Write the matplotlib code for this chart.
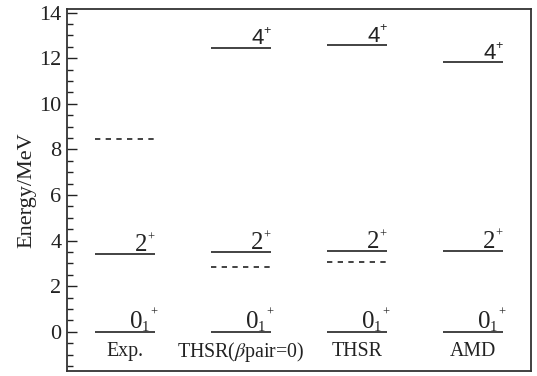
import matplotlib
matplotlib.use("Agg")
import matplotlib.pyplot as plt
from matplotlib.ticker import MultipleLocator

plt.rcParams['font.family'] = ['Liberation Serif', 'DejaVu Serif']
plt.rcParams['mathtext.fontset'] = 'stix'

# calculation schemes along the x axis
models = ["Exp.", r"THSR($\beta$pair=0)", "THSR", "AMD"]

# solid levels (MeV) for each scheme
e_ground = [0.0, 0.0, 0.0, 0.0]
e_two = [3.40, 3.50, 3.53, 3.56]
e_four = [None, 12.47, 12.58, 11.82]

# dashed levels (MeV)
e_dashed = [8.45, 2.83, 3.07, None]

ink = '#222222'
fig = plt.figure(figsize=(5.37, 3.76), dpi=100)
ax = fig.add_axes([0.1248, 0.012, 0.864, 0.9628])


def level_label(x, y, main, sub=None, sans=False):
    """Spin label: big digit left of the line end, small sub/superscripts."""
    fam = 'Liberation Sans' if sans else 'Liberation Serif'
    ax.annotate(main, (x, y), xytext=(-5 if sub is None else -8.5, 2.2 if sub is None else 2.6),
                textcoords='offset points', ha='right', va='baseline',
                fontsize=18 if not sans else 16, family=fam, color=ink)
    if sub is not None:
        ax.annotate(sub, (x, y), xytext=(-4.0, 0.8), textcoords='offset points',
                    ha='right', va='baseline', fontsize=10.5, family=fam, color=ink)
    ax.annotate("+", (x, y), xytext=(2.0 if sub is not None else 0.2, 9.5 if sub else 7.8),
                textcoords='offset points', ha='right', va='bottom', fontsize=9,
                family=fam, color=ink)


half = 0.255
lw = 1.2
for i, name in enumerate(models):
    x0, x1 = i + 0.5 - half, i + 0.5 + half
    ax.plot([x0, x1], [e_ground[i]] * 2, color=ink, lw=lw, solid_capstyle='butt')
    level_label(x1, e_ground[i], "0", sub="1")
    ax.plot([x0, x1], [e_two[i]] * 2, color=ink, lw=lw, solid_capstyle='butt')
    level_label(x1, e_two[i], "2")
    if e_four[i] is not None:
        ax.plot([x0, x1], [e_four[i]] * 2, color=ink, lw=lw, solid_capstyle='butt')
        level_label(x1, e_four[i], "4", sans=True)
    if e_dashed[i] is not None:
        ax.plot([x0, x1], [e_dashed[i]] * 2, color=ink, lw=lw, dashes=(3.2, 3.2))
    ax.text(i + 0.5, -0.88, name, ha='center', va='center', fontsize=14.3, color=ink)

ax.set_xlim(0, 4)
ax.set_ylim(-1.74, 14.14)
ax.set_xticks([])
ax.yaxis.set_major_locator(MultipleLocator(2))
ax.yaxis.set_minor_locator(MultipleLocator(0.5))
ax.tick_params(axis='y', which='major', direction='in', length=7, width=1.0,
               labelsize=16, colors=ink, pad=4)
ax.tick_params(axis='y', which='minor', direction='in', length=4, width=1.0, colors=ink)
ax.set_ylabel("Energy/MeV", fontsize=16, color=ink, labelpad=2)
for s in ax.spines.values():
    s.set_linewidth(1.3)
    s.set_color('#333333')

fig.savefig("out.png", dpi=100)
